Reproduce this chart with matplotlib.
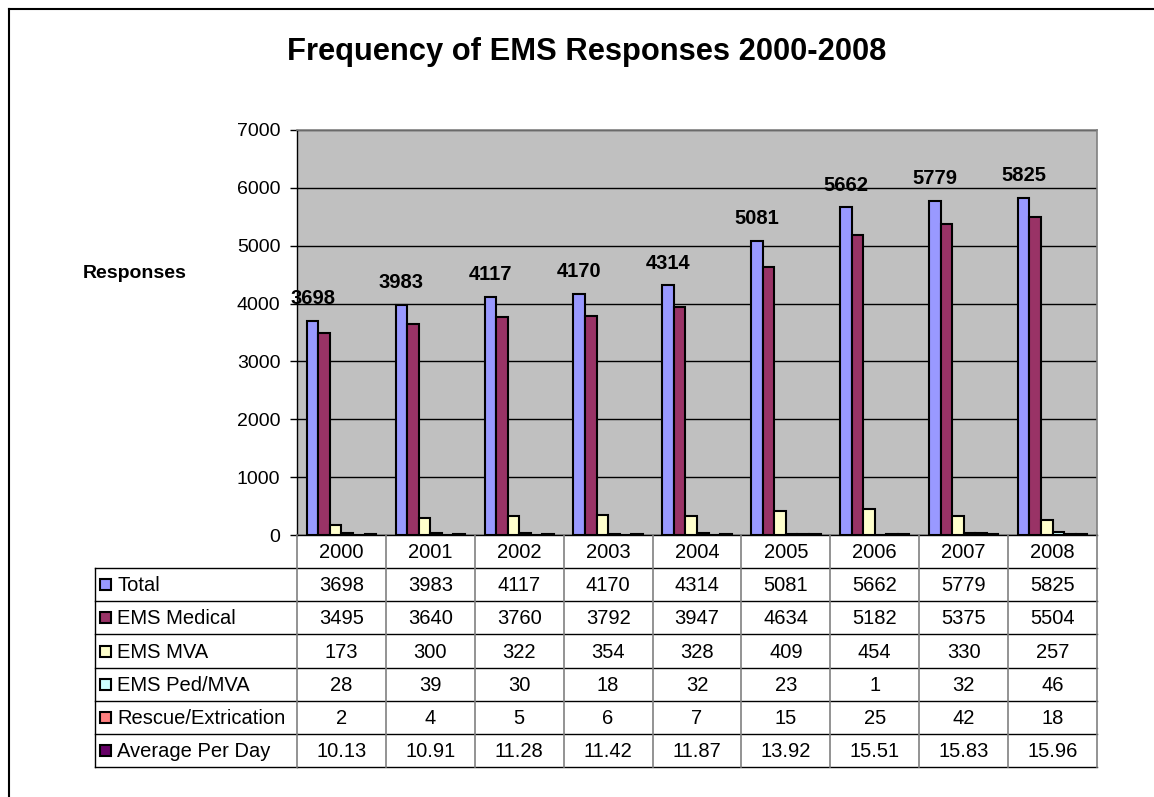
import matplotlib
matplotlib.use("Agg")
import matplotlib.pyplot as plt
from matplotlib.transforms import blended_transform_factory
from matplotlib.patches import Rectangle

plt.rcParams['font.family'] = ['Liberation Sans', 'DejaVu Sans']

years = ["2000", "2001", "2002", "2003", "2004", "2005", "2006", "2007", "2008"]
series_names = ["Total", "EMS Medical", "EMS MVA", "EMS Ped/MVA",
                "Rescue/Extrication", "Average Per Day"]
total = [3698, 3983, 4117, 4170, 4314, 5081, 5662, 5779, 5825]
ems_medical = [3495, 3640, 3760, 3792, 3947, 4634, 5182, 5375, 5504]
ems_mva = [173, 300, 322, 354, 328, 409, 454, 330, 257]
ems_ped_mva = [28, 39, 30, 18, 32, 23, 1, 32, 46]
rescue = [2, 4, 5, 6, 7, 15, 25, 42, 18]
avg_per_day = [10.13, 10.91, 11.28, 11.42, 11.87, 13.92, 15.51, 15.83, 15.96]
y_ticks = [0, 1000, 2000, 3000, 4000, 5000, 6000, 7000]

series = [total, ems_medical, ems_mva, ems_ped_mva, rescue, avg_per_day]
row_text = [[str(v) for v in total], [str(v) for v in ems_medical],
            [str(v) for v in ems_mva], [str(v) for v in ems_ped_mva],
            [str(v) for v in rescue], ["%.2f" % v for v in avg_per_day]]
colors = ["#9999FF", "#993366", "#FFFFCC", "#CCFFFF", "#FF8080", "#660066"]

W, H = 1154, 797
fig = plt.figure(figsize=(W / 100, H / 100), dpi=100)

# plot area in pixel terms
L, R, T, B = 297, 1097, 130, 535
ax = fig.add_axes([L / W, 1 - B / H, (R - L) / W, (B - T) / H])
ax.set_facecolor("#C0C0C0")
ax.set_xlim(-0.5, len(years) - 0.5)
ax.set_ylim(0, 7000)
ax.set_yticks(y_ticks)
ax.set_yticklabels([str(t) for t in y_ticks], fontsize=14)
ax.tick_params(axis='y', length=5, width=1, pad=7)
ax.set_xticks([])
ax.yaxis.grid(True, color="black", linewidth=1)
ax.set_axisbelow(True)
for s in ["left", "bottom"]:
    ax.spines[s].set_color("black")
    ax.spines[s].set_linewidth(1)
for s in ["top", "right"]:
    ax.spines[s].set_color("#808080")
    ax.spines[s].set_linewidth(1.2)

bw = 0.13
xs = list(range(len(years)))
for k, (vals, col) in enumerate(zip(series, colors)):
    pos = [x + (k - 2.5) * bw for x in xs]
    ax.bar(pos, vals, width=bw, color=col, edgecolor="black", linewidth=1.5,
           zorder=3)

# value labels above the Total bars
for x, v in zip(xs, total):
    ax.annotate(str(v), (x - 2.5 * bw, v), xytext=(0, 12),
                textcoords="offset points", ha="center", va="baseline",
                fontsize=14.5, fontweight="bold", zorder=5,
                annotation_clip=False)

# overlay in pixel coordinates for title, frame and data table
ov = fig.add_axes([0, 0, 1, 1], facecolor="none")
ov.set_xlim(0, W)
ov.set_ylim(H, 0)
ov.axis("off")
bt = blended_transform_factory(ax.transData, ov.transData)

ov.plot([9, 9], [9, H], color="black", lw=1.5)
ov.plot([9, W], [9, 9], color="black", lw=1.5)

ov.text(587, 52, "Frequency of EMS Responses 2000-2008", ha="center",
        va="center", fontsize=22.2, fontweight="bold")
ov.text(135, 273, "Responses", ha="center", va="center", fontsize=14,
        fontweight="bold")

hdr_top, hdr_bot = 535, 568
row_h = 33.2
tab_left = 95
n = len(years)
tab_bot = hdr_bot + row_h * len(series_names)
fs = 14.5

# horizontal rules
for r in range(1, len(series_names) + 1):
    y = hdr_bot + r * row_h
    ov.plot([tab_left, L], [y, y], color="black", lw=1)
    ov.plot([-0.5, n - 0.5], [y, y], color="black", lw=1, transform=bt)
ov.plot([tab_left, R], [hdr_bot, hdr_bot], color="black", lw=1)
# vertical rules
ov.plot([tab_left, tab_left], [hdr_bot, tab_bot], color="black", lw=1)
for i in range(n + 1):
    ov.plot([i - 0.5, i - 0.5], [hdr_top, tab_bot], color="#808080", lw=1.2,
            transform=bt)

for i, yr in enumerate(years):
    ov.text(i, (hdr_top + hdr_bot) / 2 + 1, yr, transform=bt, ha="center",
            va="center", fontsize=fs)

for r, (name, col, vals) in enumerate(zip(series_names, colors, row_text)):
    yc = hdr_bot + (r + 0.5) * row_h
    ov.add_patch(Rectangle((100, yc - 5.5), 11, 11, facecolor=col,
                           edgecolor="black", lw=1.5))
    ov.text(117, yc + 1, name, ha="left", va="center", fontsize=fs)
    for i, t in enumerate(vals):
        ov.text(i, yc + 1, t, transform=bt, ha="center", va="center",
                fontsize=fs)

fig.savefig("out.png", dpi=100)
